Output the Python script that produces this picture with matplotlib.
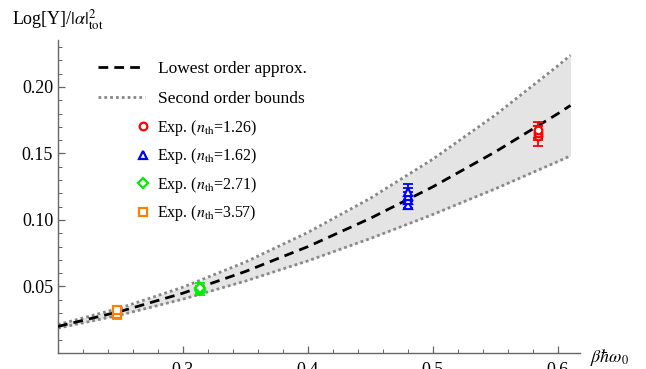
import matplotlib
matplotlib.use("Agg")
import matplotlib.pyplot as plt
from matplotlib.ticker import MultipleLocator, FixedLocator, FormatStrFormatter
from matplotlib.lines import Line2D

plt.rcParams['font.family'] = ['Liberation Serif', 'DejaVu Serif']
plt.rcParams['mathtext.fontset'] = 'stix'

# ---- data ----
x_curve = [0.20, 0.25, 0.30, 0.35, 0.40, 0.45, 0.50, 0.55, 0.60, 0.61]
lowest = [0.0200, 0.0313, 0.0450, 0.0613, 0.0800, 0.1013, 0.1250, 0.1513, 0.1800, 0.1861]
upper = [0.0213, 0.0339, 0.0495, 0.0684, 0.0907, 0.1164, 0.1458, 0.1790, 0.2160, 0.2239]
lower = [0.0187, 0.0286, 0.0405, 0.0541, 0.0693, 0.0861, 0.1042, 0.1235, 0.1440, 0.1482]

red_x = [0.584, 0.584, 0.584]
red_y = [0.1630, 0.1655, 0.1680]
red_e = [0.0076, 0.0055, 0.0060]

blue_x = [0.480, 0.480, 0.480, 0.480]
blue_y = [0.1110, 0.1150, 0.1180, 0.1210]
blue_e = [0.0030, 0.0060, 0.0060, 0.0063]

green_x = [0.3136, 0.3136]
green_y = [0.0470, 0.0490]
green_e = [0.0037, 0.0038]

orange_x = [0.247, 0.247]
orange_y = [0.0290, 0.0325]
orange_e = [0.0033, 0.0032]

series_labels = ['1.26', '1.62', '2.71', '3.57']
x_ticks = [0.3, 0.4, 0.5, 0.6]
y_ticks = [0.05, 0.10, 0.15, 0.20]

W, H = 646, 369
fig = plt.figure(figsize=(W / 100, H / 100), dpi=100)
ax = fig.add_axes([58 / W, (H - 353) / H, (580 - 58) / W, (353 - 40) / H])
ax.set_xlim(0.2, 0.6176)
ax.set_ylim(0.0, 0.2353)

axis_col = '#666666'
for s in ['top', 'right']:
    ax.spines[s].set_visible(False)
for s in ['left', 'bottom']:
    ax.spines[s].set_color(axis_col)
    ax.spines[s].set_linewidth(1.0)

ax.xaxis.set_major_locator(FixedLocator(x_ticks))
ax.xaxis.set_minor_locator(MultipleLocator(0.02))
ax.yaxis.set_major_locator(FixedLocator(y_ticks))
ax.yaxis.set_minor_locator(MultipleLocator(0.01))
ax.xaxis.set_major_formatter(FormatStrFormatter('%.1f'))
ax.yaxis.set_major_formatter(FormatStrFormatter('%.2f'))
ax.tick_params(axis='both', which='major', direction='in', length=5, width=0.9,
               color=axis_col, labelsize=13, labelcolor='black')
ax.tick_params(axis='both', which='minor', direction='in', length=3, width=0.7,
               color=axis_col)
ax.tick_params(axis='x', which='major', pad=6.5)
ax.tick_params(axis='y', which='major', pad=3.5)

dot_ls = (0, (1, 1.1))
dash_ls = (0, (3.5, 2.2))

# band and curves
ax.fill_between(x_curve, lower, upper, color='#e4e4e4', lw=0, zorder=1)
ax.plot(x_curve, upper, color='#888888', lw=2, ls=dot_ls, zorder=2)
ax.plot(x_curve, lower, color='#888888', lw=2, ls=dot_ls, zorder=2)
ax.plot(x_curve, lowest, color='black', lw=2, ls=dash_ls, zorder=3)

specs = [
    (red_x, red_y, red_e, '#ff0000', 'o', 5.5),
    (blue_x, blue_y, blue_e, '#0000ff', '^', 6),
    (green_x, green_y, green_e, '#00ee00', 'D', 5),
    (orange_x, orange_y, orange_e, '#ff8000', 's', 5.5),
]
marker_handles = []
for (xs, ys, es, c, m, ms), lab in zip(specs, series_labels):
    ax.errorbar(xs, ys, yerr=es, fmt='none', ecolor=c, elinewidth=1.3,
                capsize=3.5, capthick=1.3, zorder=4)
    ax.plot(xs, ys, ls='none', marker=m, ms=ms, mfc='white', mec=c, mew=1.6, zorder=5)
    marker_handles.append(Line2D([], [], ls='none', marker=m, ms=ms, mfc='white',
                                 mec=c, mew=1.6,
                                 label=r'Exp. ($n_{\rm th}$=' + lab + ')'))

line_handles = [
    Line2D([], [], color='black', lw=2, ls=dash_ls, label='Lowest order approx.'),
    Line2D([], [], color='#888888', lw=2, ls=dot_ls, label='Second order bounds'),
]
leg1 = ax.legend(handles=line_handles, loc='upper left',
                 bbox_to_anchor=(98 / W, (H - 61) / H), bbox_transform=fig.transFigure,
                 frameon=False, fontsize=12.5, handlelength=2.7, handletextpad=0.75,
                 labelspacing=0.78, borderpad=0, borderaxespad=0)
ax.add_artist(leg1)
leg2 = ax.legend(handles=marker_handles, loc='upper left',
                 bbox_to_anchor=(135 / W, (H - 118) / H), bbox_transform=fig.transFigure,
                 frameon=False, fontsize=11.5, handlelength=1.0, handletextpad=0.4,
                 labelspacing=0.53, borderpad=0, borderaxespad=0)

fig.text(12 / W, (H - 25) / H, r'Log[Y]/$|\alpha|^2_{\rm tot}$', fontsize=13,
         ha='left', va='baseline')
fig.text(590 / W, (H - 357) / H, r'$\beta\hbar\omega_0$', fontsize=13,
         ha='left', va='center')

fig.savefig('out.png', dpi=100)
